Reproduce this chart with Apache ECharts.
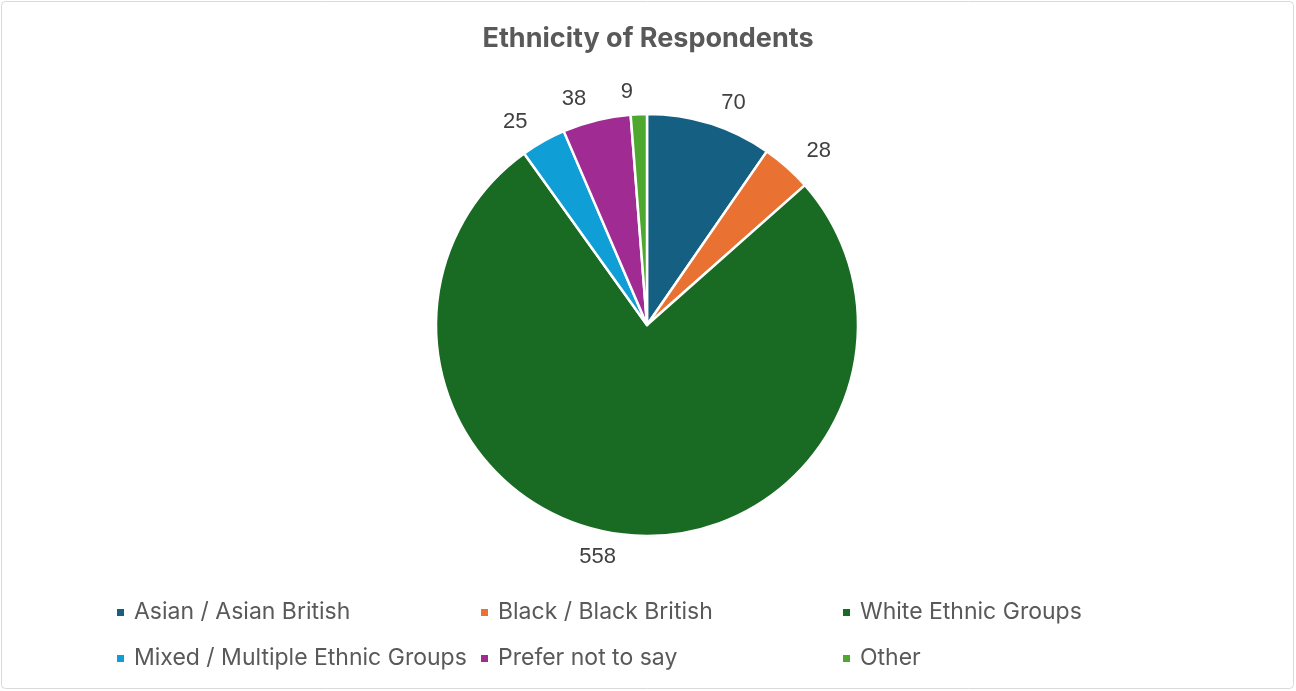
<!DOCTYPE html>
<html>
<head>
<meta charset="utf-8">
<script src="https://cdn.jsdelivr.net/npm/echarts@6/dist/echarts.min.js"></script>
<style>
  html, body { margin: 0; padding: 0; background: #fff; }
  #chart { width: 1296px; height: 691px; }
</style>
</head>
<body>
<div id="chart"></div>
<script>
// Ethnicity groups and respondent counts, clockwise from 12 o'clock
const categories = [
  'Asian / Asian British',
  'Black / Black British',
  'White Ethnic Groups',
  'Mixed / Multiple Ethnic Groups',
  'Prefer not to say',
  'Other'
];
const counts = [70, 28, 558, 25, 38, 9];
const colors = ['#156082', '#E97132', '#196B24', '#0F9ED5', '#A02B93', '#4EA72E'];

const chart = echarts.init(document.getElementById('chart'));

const legendText = {
  fontFamily: 'Inter, "Noto Sans", sans-serif',
  fontSize: 23,
  color: '#595959',
  padding: [0, 0, 0, 4]
};
// legend laid out in three columns, two rows
function legendColumn(left, names) {
  return {
    orient: 'vertical',
    left: left,
    top: 596,
    itemGap: 23,
    itemWidth: 9,
    itemHeight: 9,
    icon: 'rect',
    textStyle: legendText,
    selectedMode: false,
    data: names
  };
}

chart.setOption({
  animation: false,
  color: colors,
  title: {
    text: 'Ethnicity of Respondents',
    left: 'center',
    top: 20,
    textStyle: { fontFamily: 'Inter, "Noto Sans", sans-serif', fontSize: 27, fontWeight: 'bold', color: '#595959' }
  },
  legend: [
    legendColumn(110, [categories[0], categories[3]]),
    legendColumn(474, [categories[1], categories[4]]),
    legendColumn(836, [categories[2], categories[5]])
  ],
  graphic: [{
    type: 'rect',
    shape: { x: 1.5, y: 1.5, width: 1292, height: 687, r: 4 },
    style: { fill: 'none', stroke: '#d9d9d9', lineWidth: 1 },
    silent: true
  }],
  series: [{
    type: 'pie',
    center: [647, 325],
    radius: 211,
    startAngle: 90,
    clockwise: true,
    avoidLabelOverlap: false,
    itemStyle: { borderColor: '#ffffff', borderWidth: 2.5 },
    label: {
      show: true,
      position: 'outside',
      formatter: '{c}',
      fontFamily: '"Liberation Sans", Arial, sans-serif',
      fontSize: 22,
      color: '#404040'
    },
    labelLine: { show: false, length: 22, length2: 0 },
    data: categories.map((name, i) => ({ name: name, value: counts[i] }))
  }]
});
</script>
</body>
</html>
